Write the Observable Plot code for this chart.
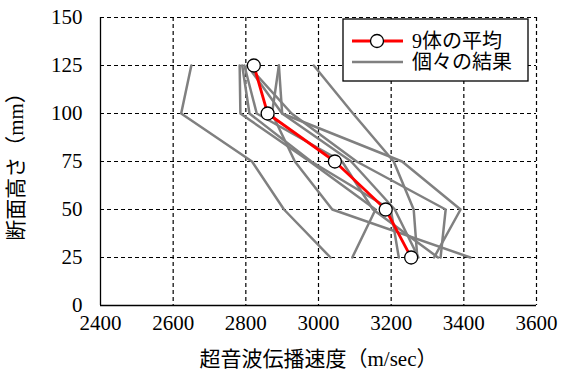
<!DOCTYPE html>
<html>
<head>
<meta charset="utf-8">
<script src="https://cdn.jsdelivr.net/npm/d3@7"></script>
<script src="https://cdn.jsdelivr.net/npm/@observablehq/plot@0.6"></script>
<style>
  html, body { margin: 0; padding: 0; background: white; }
</style>
</head>
<body>
<div id="chart"></div>
<script>
// Heights (mm) at which the velocity was measured
const heights = [25, 50, 75, 100, 125];

// Individual results (m/sec), one array per specimen, ordered as heights
const spec1 = [3033, 2905, 2817, 2622, 2650];
const spec2 = [3272, 3262, 3207, 3095, 2987];
const spec3 = [3418, 3038, 2935, 2872, 2891];
const spec4 = [3318, 3391, 3230, 2900, 2891];
const spec5 = [3093, 3157, 2976, 2785, 2783];
const spec6 = [3221, 3199, 2980, 2810, 2790];
const spec7 = [3329, 3150, 3065, 2830, 2796];
const spec8 = [3275, 3210, 3090, 2900, 2804];
const spec9 = [3336, 3350, 3105, 2926, 2806];
const specimens = [spec1, spec2, spec3, spec4, spec5, spec6, spec7, spec8, spec9];

// Average of the 9 specimens
const average = [3255, 3185, 3045, 2860, 2822];

// Tick labels
const xTicks = [2400, 2600, 2800, 3000, 3200, 3400, 3600];
const yTicks = [0, 25, 50, 75, 100, 125, 150];

// Texts
const xTitle = "超音波伝播速度（m/sec）";
const yTitle = "断面高さ（mm）";
const legendAvg = "9体の平均";
const legendInd = "個々の結果";

// Build tables for the library
const indRows = [];
specimens.forEach((s, i) => s.forEach((v, j) => indRows.push({id: i, h: heights[j], v})));
const avgRows = average.map((v, j) => ({h: heights[j], v}));

const FONT = '"Liberation Serif", "DejaVu Serif", "Noto Sans CJK JP", serif';
const grid = {stroke: "black", strokeOpacity: 1, strokeWidth: 1.2, strokeDasharray: "4,3"};

const chart = Plot.plot({
  width: 561,
  height: 374,
  marginLeft: 100,
  marginRight: 25,
  marginTop: 17,
  marginBottom: 69,
  style: {fontSize: "21px", color: "black", background: "white", overflow: "visible"},
  x: {domain: [2400, 3600]},
  y: {domain: [0, 150]},
  marks: [
    Plot.gridX(xTicks.filter(d => d > 2400), grid),
    Plot.gridY(yTicks.filter(d => d > 0), grid),
    Plot.ruleX([2400], {stroke: "black", strokeWidth: 1.3}),
    Plot.ruleY([0], {stroke: "black", strokeWidth: 1.3}),
    Plot.axisX(xTicks, {tickSize: 0, tickPadding: 10, fontSize: 21, tickFormat: d => String(d), label: xTitle, labelAnchor: "center", labelOffset: 60, labelArrow: "none"}),
    Plot.axisY(yTicks, {tickSize: 0, tickPadding: 18, fontSize: 21, tickFormat: d => String(d), label: yTitle, labelAnchor: "center", labelOffset: 92, labelArrow: "none"}),
    Plot.line(indRows, {x: "v", y: "h", z: "id", stroke: "#808080", strokeWidth: 2.5}),
    Plot.line(avgRows, {x: "v", y: "h", stroke: "#ff0000", strokeWidth: 2.8}),
    Plot.dot(avgRows, {x: "v", y: "h", r: 6.5, fill: "white", stroke: "black", strokeWidth: 1.3})
  ]
});

// Legend inside the plot area
const svg = d3.select(chart);
const lg = svg.append("g").attr("font-size", 20).attr("text-anchor", "start");
lg.append("rect").attr("x", 343).attr("y", 19).attr("width", 185).attr("height", 62)
  .attr("fill", "white").attr("stroke", "black").attr("stroke-width", 1.3);
lg.append("line").attr("x1", 352).attr("x2", 403).attr("y1", 41).attr("y2", 41)
  .attr("stroke", "#ff0000").attr("stroke-width", 2.8);
lg.append("circle").attr("cx", 377).attr("cy", 41).attr("r", 6.5)
  .attr("fill", "white").attr("stroke", "black").attr("stroke-width", 1.3);
lg.append("text").attr("x", 412).attr("y", 41).attr("dy", "0.35em").text(legendAvg);
lg.append("line").attr("x1", 352).attr("x2", 403).attr("y1", 62).attr("y2", 62)
  .attr("stroke", "#808080").attr("stroke-width", 2.5);
lg.append("text").attr("x", 412).attr("y", 62).attr("dy", "0.35em").text(legendInd);

svg.attr("font-family", FONT).style("font-family", FONT, "important");
svg.selectAll("g").attr("font-family", null);
svg.selectAll("text").style("font-family", FONT, "important");

document.getElementById("chart").appendChild(chart);
</script>
</body>
</html>
